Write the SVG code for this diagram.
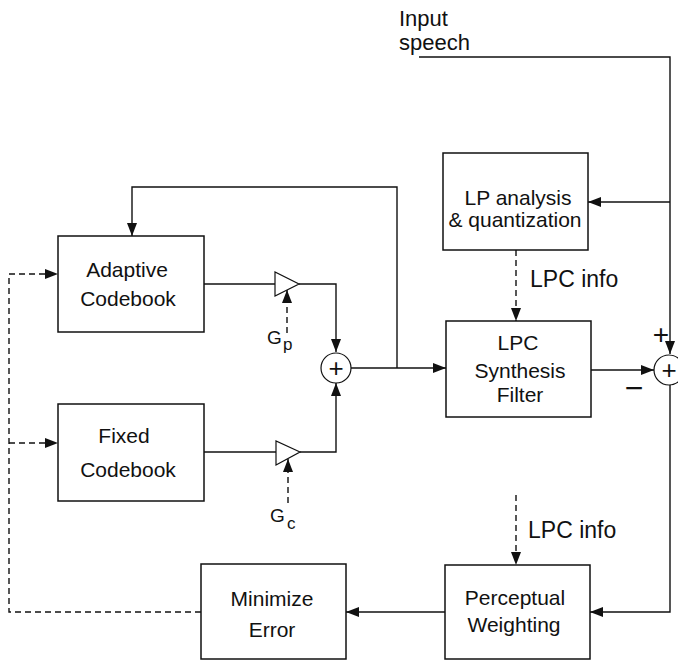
<svg xmlns="http://www.w3.org/2000/svg" width="678" height="661" viewBox="0 0 678 661">
<defs>
<marker id="ah" viewBox="0 0 13 10" refX="13" refY="5" markerUnits="userSpaceOnUse" markerWidth="13" markerHeight="10" orient="auto">
<path d="M0,0 L13,5 L0,10 z" fill="#111"/>
</marker>
<style>
.box{fill:#fff;stroke:#111;stroke-width:1.5}
.ln{fill:none;stroke:#111;stroke-width:1.4}
.dl{fill:none;stroke:#111;stroke-width:1.4;stroke-dasharray:6 4}
.t{font-family:"Liberation Sans",Arial,sans-serif;font-size:21px;fill:#111;text-anchor:middle}
.tl{font-family:"Liberation Sans",Arial,sans-serif;font-size:22px;fill:#111}
.g{font-family:"Liberation Sans",Arial,sans-serif;font-size:19px;fill:#111}
.s{font-family:"Liberation Sans",Arial,sans-serif;font-size:17px;fill:#111}
.pl{font-family:"Liberation Sans",Arial,sans-serif;font-size:26px;fill:#111;text-anchor:middle}
</style>
</defs>
<rect width="678" height="661" fill="#fff"/>
<g id="connectors">
<path class="ln" d="M419,57 H670 V354" marker-end="url(#ah)"/>
<path class="ln" d="M670,202 H588" marker-end="url(#ah)"/>
<path class="ln" d="M397,368 V187 H132 V236" marker-end="url(#ah)"/>
<path class="ln" d="M204,284 H275"/>
<path class="ln" d="M204,452 H276"/>
<path class="ln" d="M299,284 H336 V352" marker-end="url(#ah)"/>
<path class="ln" d="M300,452 H336 V383" marker-end="url(#ah)"/>
<path class="ln" d="M351,368 H446" marker-end="url(#ah)"/>
<path class="ln" d="M591,370 H654" marker-end="url(#ah)"/>
<path class="ln" d="M670,385 V612 H590" marker-end="url(#ah)"/>
<path class="ln" d="M445,612 H346" marker-end="url(#ah)"/>
<path class="dl" d="M516,250 V321" marker-end="url(#ah)"/>
<path class="dl" d="M516,495 V565" marker-end="url(#ah)"/>
<path class="dl" d="M201,612 H9 V274 H58" marker-end="url(#ah)"/>
<path class="dl" d="M9,443 H58" marker-end="url(#ah)"/>
<path class="dl" d="M287,333 V290" marker-end="url(#ah)"/>
<path class="dl" d="M288,503 V459" marker-end="url(#ah)"/>
</g>
<g id="input-label">
<text class="tl" x="399" y="26">Input</text>
<text class="tl" x="399" y="50">speech</text>
</g>
<g id="adaptive">
<rect class="box" x="58" y="236" width="146" height="96"/>
<text class="t" x="127" y="277">Adaptive</text>
<text class="t" x="128" y="306">Codebook</text>
</g>
<g id="fixed">
<rect class="box" x="58" y="404" width="146" height="97"/>
<text class="t" x="124" y="443">Fixed</text>
<text class="t" x="128" y="477">Codebook</text>
</g>
<g id="gain-p">
<polygon class="box" points="275,272 275,296 299,284" style="stroke-width:1.2"/>
<text class="g" x="267" y="344">G</text>
<text class="s" x="283" y="350">p</text>
</g>
<g id="gain-c">
<polygon class="box" points="276,441 276,465 300,452" style="stroke-width:1.2"/>
<text class="g" x="270" y="522">G</text>
<text class="s" x="287" y="529">c</text>
</g>
<g id="sum1">
<circle class="box" cx="336" cy="368" r="15" style="stroke-width:1.2"/>
<text class="pl" x="336" y="377">+</text>
</g>
<g id="lp-analysis">
<rect class="box" x="443" y="153" width="145" height="97"/>
<text class="t" x="518" y="205">LP analysis</text>
<text class="t" x="515" y="227">&amp; quantization</text>
</g>
<g id="lpc-info-1">
<text class="tl" x="530" y="287" style="font-size:23px">LPC info</text>
</g>
<g id="lpc-synthesis">
<rect class="box" x="446" y="321" width="145" height="96"/>
<text class="t" x="518" y="350">LPC</text>
<text class="t" x="520" y="378">Synthesis</text>
<text class="t" x="520" y="402">Filter</text>
</g>
<g id="sum2">
<circle class="box" cx="669" cy="370" r="15" style="stroke-width:1.2"/>
<text class="pl" x="669" y="379">+</text>
<text class="pl" x="661" y="344" style="font-size:28px">+</text>
<text class="pl" x="634" y="399" style="font-size:32px">−</text>
</g>
<g id="lpc-info-2">
<text class="tl" x="528" y="538" style="font-size:23px">LPC info</text>
</g>
<g id="perceptual">
<rect class="box" x="445" y="565" width="145" height="94"/>
<text class="t" x="515" y="605">Perceptual</text>
<text class="t" x="514" y="632">Weighting</text>
</g>
<g id="minimize">
<rect class="box" x="201" y="564" width="145" height="95"/>
<text class="t" x="272" y="606">Minimize</text>
<text class="t" x="272" y="637">Error</text>
</g>
</svg>
